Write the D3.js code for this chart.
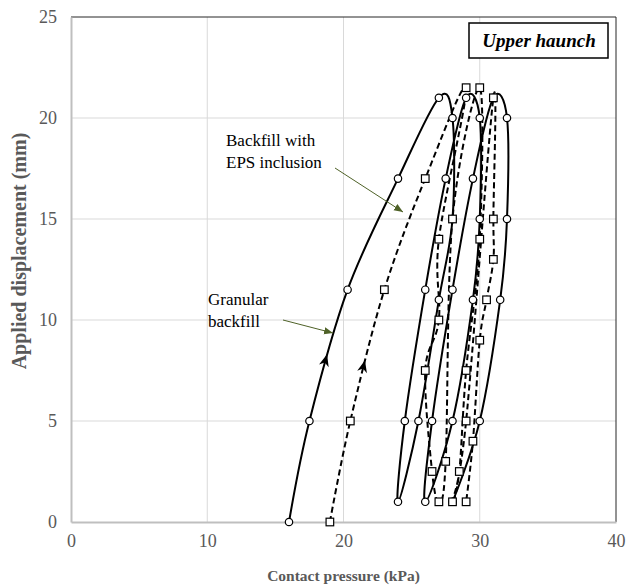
<!DOCTYPE html>
<html>
<head>
<meta charset="utf-8">
<script src="https://cdn.jsdelivr.net/npm/d3@7/dist/d3.min.js"></script>
<style>
  body { margin: 0; background: #fff; }
  text { font-family: "Liberation Serif", "Times New Roman", serif; }
</style>
</head>
<body>
<div id="chart"></div>
<script>
// granular backfill: contact pressure (kPa) / applied displacement (mm), in test order
var granularX = [16, 17.5, 20.3, 24, 27,  28, 28, 27, 25.5, 24,  24.5, 26, 27.5, 29,  30, 30, 29.5, 28, 26,  26.5, 28, 29.5, 31,  32, 32, 31.5, 30, 28];
var granularY = [0, 5, 11.5, 17, 21,  20, 15, 11, 5, 1,  5, 11.5, 17, 21,  20, 15, 11, 5, 1,  5, 11.5, 17, 21,  20, 15, 11, 5, 1];

// backfill with EPS inclusion
var epsX = [19, 20.5, 23, 26, 29,  27, 27, 26, 26.5, 27,  27.5, 28, 30,  30, 29, 28.5, 28,  29, 31,  31, 31, 30.5, 30, 29.5, 29];
var epsY = [0, 5, 11.5, 17, 21.5,  14, 10, 7.5, 2.5, 1,  3, 15, 21.5,  14, 7.5, 2.5, 1,  5, 21,  15, 13, 11, 9, 4, 1];

var xTicks = [0, 10, 20, 30, 40];
var yTicks = [0, 5, 10, 15, 20, 25];

var granularLabel = ["Granular", "backfill"];
var epsLabel = ["Backfill with", "EPS inclusion"];

var width = 626, height = 585;
var margin = {top: 17, left: 71, right: 10, bottom: 63};

var svg = d3.select("#chart")
            .append("svg")
            .attr("width", width)
            .attr("height", height);

var x = d3.scaleLinear().domain([0, 40]).range([margin.left, width - margin.right]);
var y = d3.scaleLinear().domain([0, 25]).range([height - margin.bottom, margin.top]);

// gridlines
svg.append("g")
   .selectAll("line")
   .data(xTicks.slice(1, -1))
   .enter()
   .append("line")
       .attr("x1", function(d) { return x(d); })
       .attr("x2", function(d) { return x(d); })
       .attr("y1", y(0))
       .attr("y2", y(25))
       .attr("stroke", "#d9d9d9")
       .attr("stroke-width", 1);

svg.append("g")
   .selectAll("line")
   .data(yTicks.slice(1, -1))
   .enter()
   .append("line")
       .attr("x1", x(0))
       .attr("x2", x(40))
       .attr("y1", function(d) { return y(d); })
       .attr("y2", function(d) { return y(d); })
       .attr("stroke", "#d9d9d9")
       .attr("stroke-width", 1);

// plot frame: dark top/right, grey axes on left/bottom
svg.append("path")
   .attr("d", "M" + x(0) + "," + y(25) + "H" + x(40) + "V" + y(0))
   .attr("fill", "none")
   .attr("stroke", "#262626")
   .attr("stroke-width", 1);

var xAxis = svg.append("g")
               .attr("transform", "translate(0," + y(0) + ")")
               .call(d3.axisBottom(x).tickValues(xTicks).tickSize(0).tickPadding(12));
var yAxis = svg.append("g")
               .attr("transform", "translate(" + x(0) + ",0)")
               .call(d3.axisLeft(y).tickValues(yTicks).tickSize(0).tickPadding(14));

[xAxis, yAxis].forEach(function(a) {
    a.select(".domain").attr("stroke", "#bfbfbf").attr("stroke-width", 2);
    a.selectAll("text")
     .attr("font-family", "Liberation Serif")
     .attr("font-size", 18)
     .attr("fill", "#595959");
});

svg.append("text")
   .attr("x", (x(0) + x(40)) / 2)
   .attr("y", 581)
   .attr("text-anchor", "middle")
   .attr("font-size", 15.5)
   .attr("font-weight", "bold")
   .attr("fill", "#595959")
   .text("Contact pressure (kPa)");

svg.append("text")
   .attr("transform", "translate(26,251) rotate(-90)")
   .attr("text-anchor", "middle")
   .attr("font-size", 20)
   .attr("font-weight", "bold")
   .attr("fill", "#595959")
   .text("Applied displacement (mm)");

// smoothed lines, Excel style
var line = d3.line()
             .x(function(d) { return x(d[0]); })
             .y(function(d) { return y(d[1]); })
             .curve(d3.curveCardinal.tension(0));

var granular = d3.zip(granularX, granularY);
var eps = d3.zip(epsX, epsY);

var gPath = svg.append("path")
               .datum(granular)
               .attr("d", line)
               .attr("fill", "none")
               .attr("stroke", "#000")
               .attr("stroke-width", 2);

var ePath = svg.append("path")
               .datum(eps)
               .attr("d", line)
               .attr("fill", "none")
               .attr("stroke", "#000")
               .attr("stroke-width", 2)
               .attr("stroke-dasharray", "6,3.5");

// loading direction arrowhead where the first loading branch reaches atY
function arrowAt(path, atY) {
    var node = path.node(), len = node.getTotalLength(), at = 0;
    for (var l = 0; l < len; l += 0.5) {
        if (node.getPointAtLength(l).y <= y(atY)) { at = l; break; }
    }
    var a = node.getPointAtLength(at - 2), b = node.getPointAtLength(at + 2);
    var p = node.getPointAtLength(at);
    var ang = Math.atan2(b.y - a.y, b.x - a.x) * 180 / Math.PI;
    svg.append("path")
       .attr("d", "M6,0 L-6,-5 L-2.5,0 L-6,5 Z")
       .attr("transform", "translate(" + p.x + "," + p.y + ") rotate(" + ang + ")")
       .attr("fill", "#000");
}
arrowAt(gPath, 8);
arrowAt(ePath, 7.7);

// markers: circles for granular, squares for EPS
svg.append("g")
   .selectAll("circle")
   .data(granular)
   .enter()
   .append("circle")
       .attr("cx", function(d) { return x(d[0]); })
       .attr("cy", function(d) { return y(d[1]); })
       .attr("r", 3.7)
       .attr("fill", "#fff")
       .attr("stroke", "#000")
       .attr("stroke-width", 1.2);

svg.append("g")
   .selectAll("rect")
   .data(eps)
   .enter()
   .append("rect")
       .attr("x", function(d) { return x(d[0]) - 3.8; })
       .attr("y", function(d) { return y(d[1]) - 3.8; })
       .attr("width", 7.6)
       .attr("height", 7.6)
       .attr("fill", "#fff")
       .attr("stroke", "#000")
       .attr("stroke-width", 1.2);

// annotation labels with green leader arrows
var green = "#4f6228";
svg.append("defs").append("marker")
   .attr("id", "tri")
   .attr("viewBox", "0 0 10 10")
   .attr("refX", 10).attr("refY", 5)
   .attr("markerWidth", 9).attr("markerHeight", 9)
   .attr("orient", "auto")
   .append("path")
       .attr("d", "M0,1 L10,5 L0,9 Z")
       .attr("fill", green);

function label(lines, lx, ly) {
    var t = svg.append("text")
               .attr("font-size", 17)
               .attr("fill", "#000");
    lines.forEach(function(s, i) {
        t.append("tspan").attr("x", lx).attr("y", ly + i * 21.5).text(s);
    });
}
label(granularLabel, 208, 305);
label(epsLabel, 226, 146);

svg.append("line")
   .attr("x1", 283).attr("y1", 320)
   .attr("x2", 333).attr("y2", 333)
   .attr("stroke", green).attr("stroke-width", 1)
   .attr("marker-end", "url(#tri)");
svg.append("line")
   .attr("x1", 335).attr("y1", 168)
   .attr("x2", 403).attr("y2", 212)
   .attr("stroke", green).attr("stroke-width", 1)
   .attr("marker-end", "url(#tri)");

// location box
svg.append("rect")
   .attr("x", 469).attr("y", 23)
   .attr("width", 139).attr("height", 35)
   .attr("fill", "#fff")
   .attr("stroke", "#000")
   .attr("stroke-width", 1.5);
svg.append("text")
   .attr("x", 539).attr("y", 47)
   .attr("text-anchor", "middle")
   .attr("font-size", 19)
   .attr("font-weight", "bold")
   .attr("font-style", "italic")
   .text("Upper haunch");
</script>
</body>
</html>
